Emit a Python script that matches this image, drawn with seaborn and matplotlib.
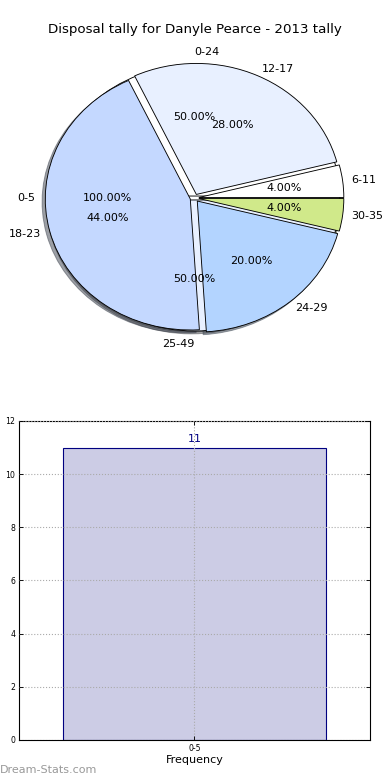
import seaborn as sns
import pandas as pd
import matplotlib
matplotlib.use("Agg")
import matplotlib.pyplot as plt

# pie layers (drawn on top of each other, same centre)
outer_labels = ["0-5"]
outer_counts = [11]
half_labels = ["0-24", "25-49"]
half_counts = [11, 11]
band_labels = ["6-11", "12-17", "18-23", "24-29", "30-35"]
band_counts = [1, 7, 11, 5, 1]

# bar chart
bar_labels = ["0-5"]
bar_values = [11]

colors = ["#FFFFFF", "#E8F0FF", "#C4D8FF", "#B3D4FF", "#D0E98A"]

plt.rcParams["font.family"] = ["DejaVu Sans"]

fig = plt.figure(figsize=(4.875, 9.75), dpi=80)

# ---- pie ----
ax = fig.add_axes([0.0487, 0.5346, 0.9, 0.4231])
wedge_kw = {"edgecolor": "black", "linewidth": 0.8}
# (labels, counts, explode, label distance, pct distance)
layers = [
    (outer_labels, outer_counts, 0.0, 1.1, 0.6),
    (half_labels, half_counts, 0.015, 1.1, 0.6),
    (band_labels, band_counts, 0.03, 1.06, 0.59),
]
for labels, counts, ex, ld, pd_ in layers:
    wedges, texts, autotexts = ax.pie(
        counts, labels=labels, colors=colors[:len(counts)],
        explode=[ex] * len(counts), autopct="%1.2f%%", startangle=0,
        shadow=True, wedgeprops=wedge_kw, labeldistance=ld, pctdistance=pd_,
        textprops={"fontsize": 10}, normalize=True)
    if labels is half_labels:
        texts[0].set_ha("left")
        texts[1].set_ha("right")
ax.set_aspect("auto")
ax.set_xlim(-1.2103, 1.2103)
ax.set_ylim(-1.2595, 1.2595)
ax.axis("off")
fig.text(0.5, 1 - 30 / 780, "Disposal tally for Danyle Pearce - 2013 tally",
         ha="center", va="center", fontsize=12)

# ---- bar ----
bx = fig.add_axes([0.0487, 0.0513, 0.9, 0.409])
df = pd.DataFrame({"Interval": bar_labels, "Count": bar_values})
sns.barplot(data=df, x="Interval", y="Count", ax=bx, width=0.75,
            color=(0, 0, 0.5, 0.2), edgecolor="navy", linewidth=1, saturation=1)
for p, v in zip(bx.patches, bar_values):
    bx.text(p.get_x() + p.get_width() / 2, v + 0.15, str(v),
            ha="center", va="bottom", color="navy", fontsize=10)
bx.set_xlim(-0.5, 0.5)
bx.set_ylim(0, 12)
bx.set_yticks(range(0, 13, 2))
bx.grid(True, linestyle=":", color="#aaaaaa", linewidth=1)
bx.set_axisbelow(False)
bx.tick_params(direction="in", top=True, right=True, labelsize=7, length=4)
for s in bx.spines.values():
    s.set_linewidth(1)
bx.set_xlabel("Frequency", fontsize=10, labelpad=2)
bx.set_ylabel("Stat Interval", fontsize=10, labelpad=3)

fig.text(0.0, 1 - 770 / 780, "Dream-Stats.com", ha="left", va="center",
         fontsize=10, color="#999999")

fig.savefig("out.png", dpi=80)
